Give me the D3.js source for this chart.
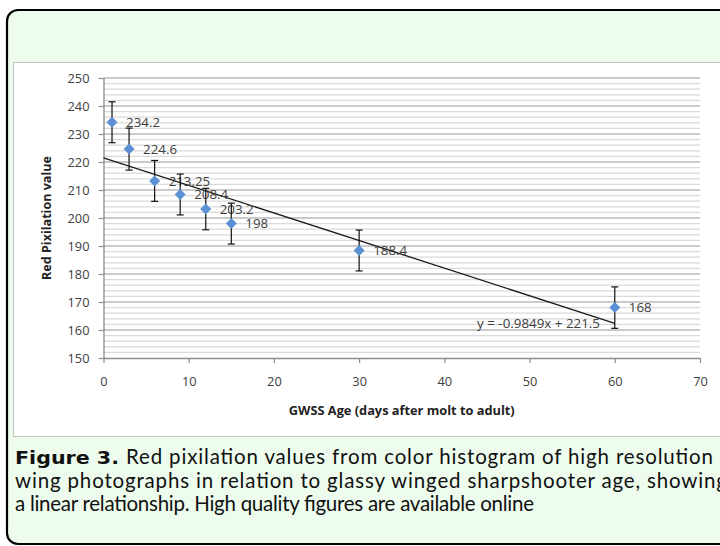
<!DOCTYPE html>
<html><head><meta charset="utf-8">
<script src="https://cdn.jsdelivr.net/npm/d3@7"></script>
<style>html,body{margin:0;padding:0;background:#fff;}svg{display:block;}</style>
</head><body>
<script>
// ---- data ----
const ages = [1, 3, 6, 9, 12, 15, 30, 60];
const redValues = [234.2, 224.6, 213.25, 208.4, 203.2, 198, 188.4, 168];
const valueLabels = ["234.2", "224.6", "213.25", "208.4", "203.2", "198", "188.4", "168"];
const errors = [7.3, 7.5, 7.3, 7.3, 7.4, 7.3, 7.3, 7.4];
const xTicks = [0, 10, 20, 30, 40, 50, 60, 70];
const yTicks = [150, 160, 170, 180, 190, 200, 210, 220, 230, 240, 250];
const trendSlope = -0.9849, trendIntercept = 221.5;
const trendRange = [0, 60];
const trendLabel = "y = -0.9849x + 221.5";
const xTitle = "GWSS Age (days after molt to adult)";
const yTitle = "Red Pixilation value";
const captionBold = "Figure 3.";
const captionLines = [
  "Red pixilation values from color histogram of high resolution",
  "wing photographs in relation to glassy winged sharpshooter age, showing",
  "a linear relationship. High quality figures are available online"
];

const W = 720, H = 546;
const svg = d3.select("body").append("svg").attr("width", W).attr("height", H);
const SANS = "'Open Sans', 'Noto Sans', sans-serif";

function fit(sel, target) {
  const node = sel.node();
  const fs = parseFloat(sel.attr("font-size"));
  const w = node.getComputedTextLength();
  if (w > 0) sel.attr("font-size", (fs * target / w).toFixed(2));
  return sel;
}

// outer rounded frame
svg.append("rect").attr("x", 7).attr("y", 10).attr("width", 760).attr("height", 534)
  .attr("rx", 11).attr("fill", "#eefcee").attr("stroke", "#000").attr("stroke-width", 2.2);

// chart panel
svg.append("rect").attr("x", 13.5).attr("y", 62.5).attr("width", 760).attr("height", 374)
  .attr("fill", "#fff").attr("stroke", "#c4c4c4").attr("stroke-width", 1);

const x = d3.scaleLinear().domain([0, 70]).range([103.5, 700]);
const y = d3.scaleLinear().domain([150, 250]).range([358, 78]);

// gridlines (minor every 2, major every 10)
const minor = d3.range(152, 250, 2).filter(v => v % 10 !== 0);
svg.append("g").selectAll("line").data(minor).join("line")
  .attr("x1", x(0)).attr("x2", x(70)).attr("y1", d => y(d)).attr("y2", d => y(d))
  .attr("stroke", "#dadada").attr("stroke-width", 1.3);
svg.append("g").selectAll("line").data(yTicks.slice(1)).join("line")
  .attr("x1", x(0)).attr("x2", x(70)).attr("y1", d => y(d)).attr("y2", d => y(d))
  .attr("stroke", "#b8b8b8").attr("stroke-width", 1.4);

// axes
const yAxis = svg.append("g").attr("transform", `translate(${x(0)},0)`)
  .call(d3.axisLeft(y).tickValues(yTicks).tickSize(5).tickPadding(9));
const xAxis = svg.append("g").attr("transform", `translate(0,${y(150)})`)
  .call(d3.axisBottom(x).tickValues(xTicks).tickSize(5).tickPadding(14));
[yAxis, xAxis].forEach(a => {
  a.select(".domain").attr("stroke", "#8c8c8c").attr("stroke-width", 1.3);
  a.selectAll(".tick line").attr("stroke", "#8c8c8c").attr("stroke-width", 1.2);
  a.selectAll(".tick text").attr("fill", "#404040")
    .attr("font-family", SANS).attr("font-size", 13);
});
xAxis.select(".domain").attr("d", `M${x(0)},0.5H${x(70)}`);
yAxis.select(".domain").attr("d", `M0.5,${y(250)}V${y(150)}`);
{
  const probe = yAxis.selectAll(".tick text").filter(d => d === 250);
  const w = probe.node().getComputedTextLength();
  const fs = 13 * 22 / w;
  yAxis.selectAll(".tick text").attr("font-size", fs);
  xAxis.selectAll(".tick text").attr("font-size", fs);
}

// axis titles
fit(svg.append("text").attr("x", (x(0) + x(70)) / 2).attr("y", 415).attr("text-anchor", "middle")
  .attr("font-family", SANS).attr("font-weight", "bold").attr("font-size", 11.5)
  .attr("fill", "#222").text(xTitle), 226);
fit(svg.append("text").attr("transform", `translate(51,${(y(150) + y(250)) / 2}) rotate(-90)`)
  .attr("text-anchor", "middle")
  .attr("font-family", SANS).attr("font-weight", "bold").attr("font-size", 11.5)
  .attr("fill", "#222").text(yTitle), 124);

// trendline
svg.append("line")
  .attr("x1", x(trendRange[0])).attr("y1", y(trendSlope * trendRange[0] + trendIntercept))
  .attr("x2", x(trendRange[1])).attr("y2", y(trendSlope * trendRange[1] + trendIntercept))
  .attr("stroke", "#1a1a1a").attr("stroke-width", 1.3);

const pts = ages.map((a, i) => ({ a, v: redValues[i], e: errors[i], lab: valueLabels[i] }));

// data labels
const labs = svg.append("g").selectAll("text").data(pts).join("text")
  .attr("x", d => x(d.a) + 14).attr("y", d => y(d.v)).attr("dy", "0.36em")
  .attr("font-family", SANS).attr("font-size", 13).attr("fill", "#404040")
  .text(d => d.lab);
{
  const w = labs.filter(d => d.lab === "234.2").node().getComputedTextLength();
  labs.attr("font-size", 13 * 34 / w);
}

// error bars
const eb = svg.append("g").attr("stroke", "#111").attr("stroke-width", 1.2);
eb.selectAll("line.v").data(pts).join("line").attr("class", "v")
  .attr("x1", d => x(d.a)).attr("x2", d => x(d.a)).attr("y1", d => y(d.v + d.e)).attr("y2", d => y(d.v - d.e));
eb.selectAll("line.t").data(pts).join("line").attr("class", "t")
  .attr("x1", d => x(d.a) - 3.5).attr("x2", d => x(d.a) + 3.5).attr("y1", d => y(d.v + d.e)).attr("y2", d => y(d.v + d.e));
eb.selectAll("line.b").data(pts).join("line").attr("class", "b")
  .attr("x1", d => x(d.a) - 3.5).attr("x2", d => x(d.a) + 3.5).attr("y1", d => y(d.v - d.e)).attr("y2", d => y(d.v - d.e));

// markers
const r = 5.5;
svg.append("g").selectAll("path").data(pts).join("path")
  .attr("d", d => `M${x(d.a)},${y(d.v) - r}L${x(d.a) + r},${y(d.v)}L${x(d.a)},${y(d.v) + r}L${x(d.a) - r},${y(d.v)}Z`)
  .attr("fill", "#5b90d4");

// trend equation
fit(svg.append("text").attr("x", 600).attr("y", y(trendSlope * 60 + trendIntercept)).attr("dy", "0.36em")
  .attr("text-anchor", "end")
  .attr("font-family", SANS).attr("font-size", 12).attr("fill", "#404040")
  .text(trendLabel), 123);

// caption
const capFont = "Lato, sans-serif";
const capSize = 20.5;
const cap = svg.append("g").attr("fill", "#111");
cap.append("text").attr("x", 15).attr("y", 464).attr("font-family", "'DejaVu Sans', sans-serif")
  .attr("font-weight", "bold").attr("font-size", 18.5)
  .attr("textLength", 104).attr("lengthAdjust", "spacingAndGlyphs").text(captionBold);
const capRows = [
  { t: captionLines[0], x: 126, y: 464, w: 587 },
  { t: captionLines[1], x: 15, y: 487.5, w: 712 },
  { t: captionLines[2], x: 15, y: 511, w: 519 }
];
cap.selectAll("text.row").data(capRows).join("text").attr("class", "row")
  .attr("x", d => d.x).attr("y", d => d.y)
  .attr("font-family", capFont).attr("font-size", capSize)
  .attr("textLength", d => d.w).attr("lengthAdjust", "spacing")
  .text(d => d.t);
</script>
</body></html>
